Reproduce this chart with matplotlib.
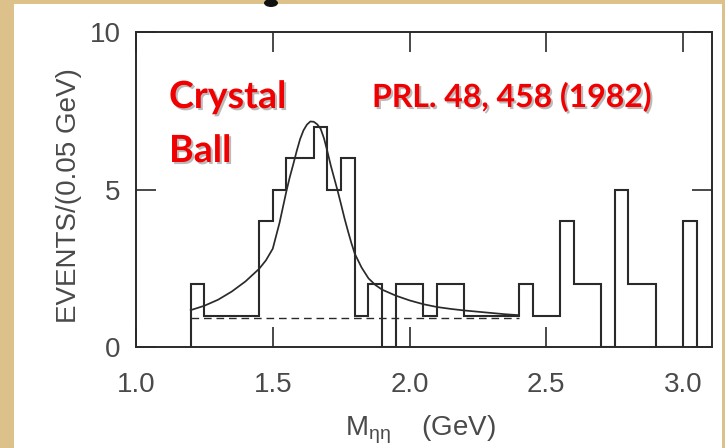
import matplotlib
matplotlib.use("Agg")
import matplotlib.pyplot as plt
import matplotlib.patheffects as pe
from matplotlib.patches import Rectangle, Ellipse
import numpy as np

# ---------------- data ----------------
bin_start = 1.20
bin_width = 0.05
counts = [2, 1, 1, 1, 1, 4, 5, 6, 6, 7, 5, 6, 1, 2, 0, 2, 2, 1, 2, 2,
          1, 1, 1, 1, 2, 1, 1, 4, 2, 2, 0, 5, 2, 2, 0, 0, 4]

fit_x = [1.20, 1.25, 1.30, 1.35, 1.40, 1.45, 1.475, 1.50, 1.525, 1.55,
         1.5625, 1.575, 1.5875, 1.60, 1.6125, 1.625, 1.6375, 1.65, 1.6625,
         1.675, 1.6875, 1.70, 1.7125, 1.725, 1.7375, 1.75, 1.7625, 1.775,
         1.7875, 1.80, 1.825, 1.85, 1.875, 1.90, 1.95, 2.00, 2.05, 2.10,
         2.15, 2.20, 2.25, 2.30, 2.35, 2.40]
fit_y = [1.17, 1.31, 1.50, 1.76, 2.08, 2.48, 2.75, 3.12, 3.95, 4.95,
         5.40, 5.80, 6.22, 6.60, 6.88, 7.06, 7.16, 7.15, 7.07,
         6.93, 6.62, 6.20, 5.75, 5.35, 4.95, 4.52, 4.08, 3.68,
         3.30, 2.96, 2.52, 2.18, 1.97, 1.82, 1.63, 1.48, 1.36, 1.27,
         1.21, 1.16, 1.12, 1.08, 1.04, 1.01]

bkg_x = [1.20, 2.40]
bkg_y = [0.92, 0.92]

x_ticks = [1.0, 1.5, 2.0, 2.5, 3.0]
x_ticklabels = ["1.0", "1.5", "2.0", "2.5", "3.0"]
y_ticks = [0, 5, 10]
y_ticklabels = ["0", "5", "10"]

# ---------------- styling ----------------
W, H = 725, 448
scan_font = ["Liberation Sans", "DejaVu Sans"]
plt.rcParams["font.family"] = scan_font
plt.rcParams["mathtext.fontset"] = "custom"
plt.rcParams["mathtext.rm"] = "Liberation Sans"
plt.rcParams["mathtext.it"] = "Liberation Sans"

ink = "#2a2a2a"
text_gray = "#4a4a4a"

fig = plt.figure(figsize=(W / 100, H / 100), dpi=100)
fig.patch.set_facecolor("#dcc28a")
fig.add_artist(Rectangle((14 / W, 0), (722 - 14) / W, (H - 4) / H,
                         transform=fig.transFigure, facecolor="white",
                         edgecolor="none", zorder=0))

# dark fragment of a cut-off slide title glyph at the top edge
fig.add_artist(Ellipse((271 / W, 1 - 3 / H), 14 / W, 8 / H,
                       transform=fig.transFigure, facecolor="#111111",
                       edgecolor="none", zorder=1))

ax = fig.add_axes([136 / W, 1 - 347 / H, 576 / W, 315 / H])
ax.patch.set_alpha(0)

edges = np.round(bin_start + bin_width * np.arange(len(counts) + 1), 3)
ax.stairs(counts, edges, baseline=0, color=ink, linewidth=1.5, zorder=3)
ax.plot(fit_x, fit_y, color=ink, linewidth=1.25, zorder=4)
ax.plot(bkg_x, bkg_y, color=ink, linewidth=1.0, linestyle=(0, (5.5, 3.5)), zorder=2)

ax.set_xlim(1.0, 1.0 + 576 / 273.5)
ax.set_ylim(0, 10)
ax.set_xticks(x_ticks)
ax.set_xticklabels(x_ticklabels)
ax.set_yticks(y_ticks)
ax.set_yticklabels(y_ticklabels)
ax.tick_params(direction="in", length=14.5, width=1.2, color=ink,
               top=True, right=True, labelsize=20, labelcolor=text_gray)
ax.tick_params(axis="x", pad=18)
ax.tick_params(axis="y", pad=11)
for s in ax.spines.values():
    s.set_linewidth(1.4)
    s.set_color(ink)

ax.set_ylabel("EVENTS/(0.05 GeV)", fontsize=20, color=text_gray, va="center")
ax.yaxis.set_label_coords((69 - 136) / 576, (347 - 196) / 315)
ax.set_xlabel(r"M$_{\mathrm{ηη}}$    (GeV)", fontsize=20, color=text_gray, va="center")
ax.xaxis.set_label_coords((420 - 136) / 576, (347 - 430) / 315)

red = "#f00000"
shadow = [pe.withSimplePatchShadow(offset=(1.5, -1.5), shadow_rgbFace="#777777", alpha=0.5)]
title_font = ["Lato", "DejaVu Sans"]
fig.text(169 / W, 1 - 108 / H, "Crystal", fontsize=27, fontweight="bold", color=red,
         family=title_font, ha="left", va="baseline", path_effects=shadow)
fig.text(169 / W, 1 - 162 / H, "Ball", fontsize=27, fontweight="bold", color=red,
         family=title_font, ha="left", va="baseline", path_effects=shadow)
fig.text(372 / W, 1 - 107 / H, "PRL. 48, 458 (1982)", fontsize=23, fontweight="bold",
         color=red, family=title_font, ha="left", va="baseline", path_effects=shadow)

fig.savefig("out.png", dpi=100, facecolor=fig.get_facecolor())
